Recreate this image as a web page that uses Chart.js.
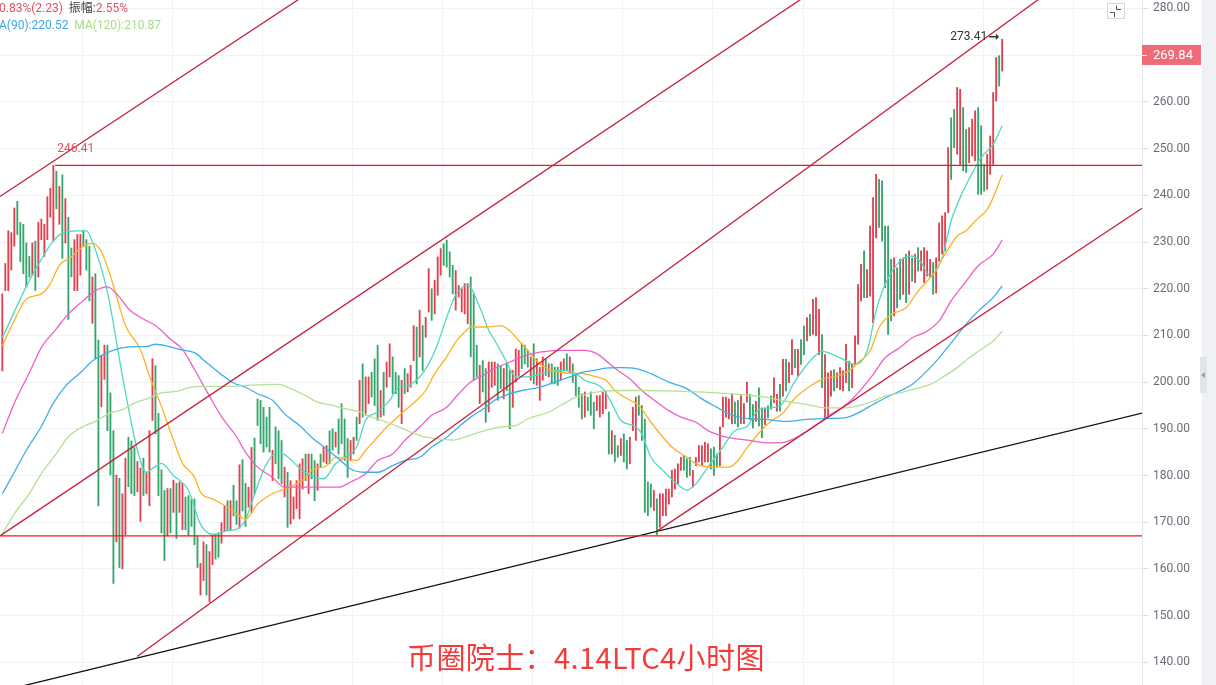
<!DOCTYPE html>
<html><head><meta charset="utf-8">
<script src="https://cdn.jsdelivr.net/npm/chart.js@4.4.1/dist/chart.umd.min.js"></script>
<style>
html,body{margin:0;padding:0;background:#fff;overflow:hidden;}
#wrap{position:relative;width:1216px;height:685px;overflow:hidden;}
canvas{position:absolute;left:0;top:0;}
.lg{position:absolute;left:-1px;font-family:Roboto,"Noto Sans CJK SC",sans-serif;font-size:12px;white-space:nowrap;line-height:14px;}
#title{position:absolute;left:407px;top:641px;font-family:"Noto Sans CJK SC",sans-serif;font-size:29px;line-height:30px;letter-spacing:0.4px;color:#f23b3b;white-space:nowrap;}
</style></head>
<body>
<div id="wrap">
<canvas id="c" width="1216" height="685"></canvas>
<div class="lg" style="top:1px"><span style="color:#e8505e">0.83%(2.23)</span>&nbsp;&nbsp;<span style="color:#444">振幅:</span><span style="color:#e8505e">2.55%</span></div>
<div class="lg" style="top:18px"><span style="color:#3aa7e4">A(90):220.52</span>&nbsp;&nbsp;<span style="color:#a9db86">MA(120):210.87</span></div>
<div id="title">币圈院士：4.14LTC4小时图</div>
</div>
<script>
// ---- candle data (4h candles, index 0..333) ----
const candleLow = [
202.4,219.6,219.6,224.0,229.1,231.6,225.8,223.2,220.3,222.5,
222.9,219.6,222.5,230.5,226.9,230.5,235.3,230.2,237.1,233.8,
226.5,229.8,213.4,222.5,219.6,219.6,222.9,229.1,224.0,217.4,
212.6,205.0,173.5,194.7,200.6,189.6,180.1,156.9,165.8,160.3,
160.0,167.3,177.6,176.1,175.7,176.5,170.2,175.7,176.1,173.5,
191.8,188.9,175.7,167.7,161.8,167.1,167.7,172.1,166.5,172.1,
168.4,168.4,167.1,169.1,165.2,160.3,154.4,157.5,154.4,152.9,
160.9,162.1,162.5,165.5,168.0,168.4,168.4,171.3,169.5,168.7,
172.4,169.1,173.2,172.0,176.0,190.7,186.8,185.0,186.1,185.0,
178.9,182.5,179.3,178.2,175.4,168.9,169.6,170.7,172.9,170.7,
177.1,178.9,176.1,179.3,174.6,176.8,181.8,182.9,182.5,182.5,
185.4,186.1,184.6,186.8,183.2,179.6,183.2,184.6,187.5,191.1,
192.5,192.9,195.4,196.8,195.0,191.8,192.5,192.9,198.9,201.1,
197.5,197.5,194.6,191.1,197.5,197.9,198.9,204.6,199.6,205.4,
202.5,209.6,215.0,213.2,214.6,218.6,222.9,225.0,224.6,222.5,
218.9,215.4,218.2,215.0,214.6,212.5,205.4,200.4,201.1,195.4,
197.9,191.4,193.6,198.9,199.3,196.1,198.6,196.4,198.2,190.0,
194.6,200.0,201.4,202.9,203.9,203.2,200.4,199.6,199.3,196.1,
200.4,201.4,201.1,199.6,199.6,199.3,200.4,202.5,202.5,201.8,
200.0,197.1,194.6,192.1,192.5,193.9,192.9,190.0,193.9,192.5,
193.2,194.3,184.6,184.6,182.9,183.9,184.3,182.9,181.4,182.5,
189.6,187.5,192.9,187.5,172.1,171.4,173.2,172.5,167.3,168.9,
171.4,171.4,173.9,175.4,177.1,178.2,181.1,181.1,179.6,180.0,
177.5,182.1,182.9,182.1,182.9,182.9,181.4,180.0,181.8,182.1,
190.4,192.5,192.1,191.1,191.1,190.4,191.1,191.1,195.7,192.0,
190.2,191.6,190.6,188.1,190.9,192.4,194.2,195.6,193.8,193.8,
197.0,198.1,199.9,201.6,203.1,201.3,203.8,205.9,208.8,209.9,
210.2,209.9,205.9,198.8,192.4,192.4,197.0,198.1,198.8,198.4,
198.1,199.9,198.1,198.8,203.8,208.1,217.4,218.1,218.1,218.4,
212.7,230.9,233.1,230.2,220.2,210.2,213.1,214.2,215.9,217.7,
218.8,217.0,218.8,221.6,221.3,223.8,223.8,221.3,222.7,222.4,
218.8,219.1,225.9,227.4,228.1,236.3,243.4,250.2,248.8,246.6,
245.2,244.9,247.0,248.4,247.4,240.2,240.2,240.9,241.3,244.5,
246.6,260.2,263.4,266.6];
const candleHigh = [
218.9,225.4,232.4,232.0,237.3,238.7,234.2,233.8,229.8,226.9,
229.8,230.2,234.2,234.9,233.8,239.7,241.5,246.41,245.2,241.9,
244.4,239.3,235.3,228.7,230.5,231.6,231.6,232.4,230.5,229.1,
222.5,223.2,209.0,205.7,207.9,207.9,197.7,189.6,180.1,179.4,
176.1,183.7,188.2,187.4,186.0,183.0,181.6,183.7,180.8,189.6,
205.0,203.5,193.3,181.2,176.8,177.2,177.2,179.0,178.3,178.6,
178.3,175.4,175.7,175.0,175.0,167.1,161.2,165.8,165.2,163.7,
167.4,167.4,167.7,169.9,173.5,174.6,174.6,177.9,174.6,182.3,
183.4,178.3,177.5,186.0,188.0,196.4,196.1,194.6,192.5,194.6,
185.4,190.4,189.6,187.5,181.8,180.7,178.9,175.4,178.9,182.5,
183.6,184.6,184.6,184.6,183.2,182.5,184.6,186.1,186.4,189.6,
190.0,189.3,192.1,195.4,192.1,187.9,187.5,188.2,192.5,200.4,
203.9,201.1,201.1,202.1,205.0,207.9,198.2,202.1,204.3,208.2,
205.4,202.1,201.4,200.4,202.9,201.8,203.6,212.1,211.8,215.4,
212.1,213.9,224.3,220.0,221.8,226.8,228.6,229.6,230.4,227.9,
225.0,223.9,220.7,220.0,221.1,221.1,222.5,218.9,207.9,203.6,
204.6,202.9,204.3,204.3,204.3,203.9,203.6,202.9,203.9,202.5,
202.5,207.1,206.8,208.2,207.9,206.8,205.4,208.2,205.0,203.2,
205.4,205.0,203.9,203.9,203.2,203.2,204.3,205.0,206.1,205.4,
203.9,201.8,198.9,197.5,197.9,196.8,197.9,195.7,197.1,197.1,
197.9,198.2,193.6,189.6,188.6,186.4,187.9,188.9,187.5,188.2,
194.6,196.8,197.1,195.0,192.1,178.6,178.2,176.8,175.0,176.1,
176.1,177.1,177.1,181.1,181.4,182.5,183.9,184.3,183.6,183.9,
181.1,183.9,186.4,186.4,187.1,186.8,185.7,186.1,184.6,190.4,
196.8,196.8,196.4,197.5,195.7,196.1,197.1,195.4,200.0,197.4,
195.2,195.9,198.8,194.5,194.5,194.9,197.0,200.9,197.4,199.5,
204.9,204.9,204.2,209.1,207.0,207.0,209.1,212.0,213.8,214.5,
217.7,218.1,215.6,210.2,205.9,202.0,202.4,202.7,202.0,203.1,
202.4,208.1,204.5,203.8,209.9,220.9,225.2,228.1,224.1,233.4,
239.5,244.5,243.4,243.1,233.4,233.4,226.3,226.6,224.5,226.3,
226.6,227.4,228.1,226.6,227.4,228.8,228.1,228.8,228.1,226.3,
225.6,226.6,234.1,235.6,236.3,250.2,256.6,258.4,263.1,262.7,
258.8,254.1,254.5,256.3,258.1,258.8,254.9,246.6,248.8,252.7,
262.0,269.5,269.9,273.41];
// 1 = rising (red), 0 = falling (green)
const candleUp = [
1,1,1,1,1,0,0,0,0,0, 1,0,1,1,1,1,1,1,0,1, 0,1,0,0,1,1,1,0,0,0, 1,0,0,1,1,0,0,0,1,0,
1,1,0,0,0,1,1,0,1,1, 1,0,0,0,0,1,0,1,0,1, 1,0,0,0,0,0,1,1,0,1, 1,0,0,1,1,0,1,0,0,1,
0,0,1,1,0,0,0,0,0,0, 1,0,0,0,1,0,1,1,1,1, 1,0,1,0,0,1,0,1,1,0, 0,1,0,0,0,0,1,1,0,1,
0,1,1,0,0,0,1,0,1,1, 0,0,0,1,0,1,1,1,0,1, 0,1,1,0,1,1,1,0,0,0, 0,1,1,1,1,1,0,0,0,1,
0,0,1,1,1,0,0,1,0,0, 1,1,1,0,0,0,1,0,1,1, 1,0,1,0,0,0,1,1,0,1, 0,0,0,0,1,0,0,0,1,1,
1,1,0,1,0,0,1,0,0,1, 1,1,0,0,0,0,0,1,0,1, 1,1,1,1,1,1,1,0,0,0, 1,1,1,1,1,1,0,0,0,1,
1,1,1,1,0,0,1,1,1,0, 0,1,0,0,1,0,0,1,1,0, 1,0,1,1,0,1,0,0,1,0, 1,1,1,0,1,1,1,0,1,1,
1,1,0,1,1,1,1,0,1,1, 1,1,0,0,0,0,0,1,0,0, 1,0,1,0,1,0,1,1,1,1, 0,1,1,1,1,1,0,0,1,1,
0,0,1,1,1,0,0,0,1,1, 1,1,0,1];
const lastClose = 269.84;
const peakMark = [17, 246.41];
const highMark = [333, 273.41];

// ---- moving averages [candle index, value] ----
const maShort = [[0,209.5],[10,222.9],[20,231.9],[25,232.4],[28,232.4],[30,230.1],[35,219.3],[40,201.3],[45,185.4],[48,180.6],[50,181.5],[53,182.6],[57,180.0],[62,176.8],[66,169.6],[70,167.4],[75,168.2],[78,168.5],[81,170.5],[84,176],[88,182.5],[92,185],[95,184],[100,181],[104,179.6],[107,179.3],[111,182.5],[114,183.9],[118,186.1],[121,191.8],[125,193.6],[129,196.1],[132,198.9],[135,199.3],[139,201.1],[142,203.9],[145,208.2],[148,213.9],[151,218.6],[155,220.7],[159,216.1],[162,211.1],[164,208.9],[168,204.3],[171,201.1],[175,201.1],[181,202.1],[186,202.5],[191,201.8],[194,200.4],[200,198.6],[203,195.4],[206,191.8],[211,190.4],[213,188.9],[216,183.9],[220,181.1],[224,178.6],[228,176.9],[231,178.2],[235,181.8],[240,186.1],[244,189.6],[248,190.5],[252,194.1],[259,194.9],[264,200.2],[270,205.2],[273,206.6],[279,205.2],[284,203.8],[288,206.6],[291,215.2],[294,220.9],[299,225.9],[303,227.0],[306,225.6],[309,222.7],[313,226.6],[316,234.5],[320,240.9],[324,245.9],[326,248.1],[330,250.9],[333,254.9]];
const maMid = [[0,207.8],[4,213.2],[8,217.8],[13,218.9],[16,221.1],[19,225.0],[23,226.8],[26,228.6],[30,229.7],[33,227.9],[37,220.7],[41,212.1],[46,207.0],[49,201.3],[53,194.8],[57,187.6],[60,182.6],[64,179.7],[66,176.4],[70,175.0],[75,173.2],[78,171.8],[81,170.7],[85,173.9],[90,176.1],[94,177.1],[98,178.2],[101,179.6],[103,181.1],[108,182.1],[111,183.9],[114,183.6],[118,183.2],[121,185.4],[124,187.5],[128,190.4],[131,192.1],[134,193.9],[138,196.1],[141,198.2],[144,201.8],[148,205.4],[151,208.6],[154,210.7],[156,211.8],[161,211.8],[166,212.1],[169,211.0],[172,208.9],[175,206.8],[179,203.9],[183,202.5],[188,201.9],[193,201.8],[198,201.1],[201,200.4],[204,198.2],[209,196.1],[212,195.0],[216,191.4],[220,188.2],[223,186.1],[228,183.9],[231,182.5],[235,181.9],[242,181.8],[245,183.2],[248,185.9],[252,189.1],[256,191.6],[260,193.4],[264,196.6],[269,199.1],[273,200.6],[278,201.3],[282,202.4],[285,204.2],[289,206.6],[292,211.7],[296,214.5],[301,215.9],[305,219.5],[310,223.1],[314,227.4],[318,231.3],[321,232.4],[324,234.5],[328,237.0],[330,239.5],[333,244.4]];
const maLong = [[0,189.0],[4,195.5],[9,202.0],[13,207.4],[18,211.4],[22,214.6],[27,217.5],[31,219.6],[35,220.4],[39,218.2],[42,215.7],[47,213.5],[51,212.1],[56,209.2],[60,207.0],[64,202.7],[69,197.0],[73,192.6],[78,188.3],[81,185.0],[85,181.8],[90,179.6],[94,177.5],[99,177.5],[103,177.5],[108,177.5],[112,177.5],[116,178.6],[121,180.4],[125,183.2],[130,184.6],[134,187.5],[139,190.4],[143,192.9],[148,194.6],[152,197.5],[156,200.0],[161,201.8],[164,202.9],[169,204.3],[173,205.4],[179,206.4],[186,206.8],[194,206.8],[198,206.1],[201,204.6],[205,202.5],[209,200.7],[213,198.2],[218,195.7],[222,193.9],[226,192.5],[231,191.4],[235,189.6],[240,188.4],[244,187.9],[249,187.5],[254,187.0],[259,187.0],[263,187.7],[268,189.5],[272,191.3],[276,193.1],[281,195.2],[285,197.7],[290,201.6],[294,205.2],[299,207.4],[303,209.5],[308,210.9],[312,213.1],[316,217.4],[321,221.6],[325,224.9],[330,227.4],[333,230.4]];
const ma90 = [[0,176.1],[4,180.7],[8,185.4],[13,190.5],[17,195.5],[21,199.1],[26,202.0],[30,204.5],[35,206.3],[39,207.2],[44,207.6],[48,207.6],[51,208.1],[55,207.7],[59,207.0],[64,206.3],[68,204.2],[73,201.6],[77,199.8],[81,198.9],[85,197.5],[90,196.1],[94,193.2],[99,190.7],[103,188.2],[108,185.7],[112,183.6],[116,181.4],[121,180.7],[125,180.7],[130,182.1],[134,183.2],[139,183.9],[143,186.1],[148,188.2],[152,190.4],[156,192.5],[161,194.6],[164,196.1],[169,197.5],[173,198.2],[179,198.9],[184,200.0],[189,201.1],[193,202.1],[198,202.6],[201,203.0],[206,203.1],[211,202.9],[216,201.8],[222,200.0],[228,198.6],[233,196.4],[238,194.6],[242,193.2],[246,192.4],[250,192.1],[254,192.0],[261,191.6],[268,192.0],[274,192.2],[281,192.4],[285,193.4],[290,195.2],[294,196.6],[299,198.1],[303,199.5],[308,202.4],[312,205.2],[316,208.4],[321,212.4],[325,215.2],[330,218.1],[333,220.6]];
const ma120 = [[0,167.5],[4,171.8],[9,176.1],[13,180.4],[18,184.7],[22,188.3],[27,190.5],[31,191.6],[36,193.4],[40,194.1],[44,195.5],[49,196.6],[53,197.7],[58,198.0],[62,198.8],[67,199.1],[71,199.1],[76,199.1],[81,199.3],[85,199.4],[92,199.5],[96,198.6],[101,197.1],[105,195.7],[110,195.0],[114,194.3],[119,193.6],[123,192.5],[128,191.4],[132,190.4],[136,189.3],[141,188.2],[145,187.9],[150,187.6],[154,188.2],[159,189.3],[163,190.0],[166,190.4],[171,190.7],[175,192.1],[182,193.6],[186,195.0],[191,196.8],[195,197.5],[201,198.1],[209,198.2],[214,198.2],[222,198.1],[231,197.9],[240,197.6],[248,197.2],[254,196.8],[261,195.9],[268,195.2],[274,194.5],[281,194.5],[285,194.9],[290,195.9],[294,197.0],[299,197.7],[303,198.4],[309,199.5],[313,201.0],[318,203.1],[322,205.2],[326,207.0],[330,208.8],[333,210.9]];

// ---- drawn trend lines [candle index, price] ----
const channelTop = [[-0.77,239.73],[98.7,281.95]];
const channelMid = [[-0.77,167.08],[265.9,281.95]];
const channelUp  = [[44.9,141.25],[345.1,281.95]];
const channelLow = [[217.9,168.04],[380,237.4]];
const supportLine = [[5.9,134.8],[380,193.43]];
const hLineHigh = [[17.6,246.41],[380,246.41]];
const hLineLow  = [[-1,167.08],[380,167.08]];
const yTicks = [140,150,160,170,180,190,200,210,220,230,240,250,260,270,280];

const RED='#e2404f', GREEN='#35a66b';
const toPts = a => a.map(p => ({x:p[0], y:p[1]}));
const candles = candleLow.map((lo,i) => ({x:i, y:[lo, candleHigh[i]]}));

function lineDs(data, color, width, order, tension){
  return {type:'line', data:toPts(data), borderColor:color, borderWidth:width, pointRadius:0,
    fill:false, order:order, tension: tension||0, cubicInterpolationMode: tension? 'monotone':'default'};
}

const deco = {
  id:'deco',
  beforeDraw(chart){
    const c=chart.ctx; c.save(); c.fillStyle='#fff'; c.fillRect(0,0,chart.width,chart.height); c.restore();
  },
  afterDraw(chart){
    const c=chart.ctx, xs=chart.scales.x, ys=chart.scales.y, ca=chart.chartArea;
    c.save();
    // right side strip
    c.fillStyle='#eff1f5'; c.fillRect(1202,0,14,chart.height);
    c.fillStyle='#e1e4ea'; c.fillRect(1200,357,7,36);
    c.fillStyle='#9aa1ab'; c.beginPath(); c.moveTo(1201,375); c.lineTo(1205,372); c.lineTo(1205,378); c.closePath(); c.fill();
    // small icon
    c.strokeStyle='#d3d7de'; c.lineWidth=1; c.strokeRect(1107.5,3.5,17,15);
    c.strokeStyle='#555'; c.beginPath();
    c.moveTo(1116.5,5.5); c.lineTo(1116.5,9.5); c.lineTo(1121,9.5);
    c.moveTo(1110,12.5); c.lineTo(1114.5,12.5); c.lineTo(1114.5,17);
    c.stroke();
    // last price box
    const py = ys.getPixelForValue(lastClose) - 1;
    c.fillStyle='#ef6b77'; c.fillRect(ca.right, py-10, 1201-ca.right, 20);
    c.strokeStyle='#fff'; c.beginPath(); c.moveTo(ca.right, py+0.5); c.lineTo(ca.right+5, py+0.5); c.stroke();
    c.fillStyle='#fff'; c.font='13px Roboto, sans-serif'; c.textBaseline='middle'; c.textAlign='left';
    c.fillText(lastClose.toFixed(2), ca.right+11, py+0.5);
    // peak label
    c.font='12px Roboto, sans-serif';
    c.fillStyle='#e8505e'; c.textAlign='left';
    c.fillText(peakMark[1].toFixed(2), xs.getPixelForValue(peakMark[0])+4, ys.getPixelForValue(peakMark[1])-16);
    // high label
    c.fillStyle='#333'; c.textAlign='right';
    c.fillText(highMark[1].toFixed(2), xs.getPixelForValue(highMark[0])-15, ys.getPixelForValue(highMark[1])-2);
    c.font='bold 13px "DejaVu Sans", sans-serif';
    c.fillText('\u2192', xs.getPixelForValue(highMark[0])-3, ys.getPixelForValue(highMark[1])-2);
    c.restore();
  }
};

new Chart(document.getElementById('c'), {
  data:{ datasets:[
    {type:'bar', data:candles, backgroundColor:candleUp.map(u=>u?RED:GREEN), barThickness:1.2,
      borderWidth:0, grouped:false, order:5},
    lineDs(ma120,'#b5e193',1.3,4,0.4),
    lineDs(ma90,'#3daee9',1.3,4,0.4),
    lineDs(maLong,'#ee5fc7',1.3,4,0.4),
    lineDs(maMid,'#fdb225',1.3,4,0.4),
    lineDs(maShort,'#4fd9bf',1.3,4,0.4),
    lineDs(channelTop,'#c4233b',1.3,2),
    lineDs(channelMid,'#c4233b',1.3,2),
    lineDs(channelUp,'#c4233b',1.3,2),
    lineDs(channelLow,'#c4233b',1.3,2),
    lineDs(supportLine,'#111111',1.3,2),
    lineDs(hLineHigh,'#ff1414',1.4,1),
    lineDs(hLineLow,'#ff1414',1.4,1)
  ]},
  options:{
    responsive:false, animation:false, devicePixelRatio:1,
    layout:{padding:0},
    plugins:{legend:{display:false}, tooltip:{enabled:false}},
    scales:{
      x:{type:'linear', min:-0.77, max:379.57, position:'bottom', offset:false,
        grid:{color:'#f1f3f7', drawTicks:false, offset:false}, border:{display:false},
        ticks:{display:false},
        afterBuildTicks(s){ const t=[]; for(let v=26.67; v<379; v+=30) t.push({value:v}); s.ticks=t; },
        afterFit(s){ s.height=0; s.paddingLeft=0; s.paddingRight=0; }
      },
      y:{type:'linear', position:'right', min:135.14, max:281.82,
        grid:{color:'#eef1f5', tickLength:6, tickColor:'#d8dce2'},
        border:{color:'#e3e6eb'},
        ticks:{padding:5, color:'#666e7a', font:{family:'Roboto', size:12}, callback:v=>Number(v).toFixed(2)},
        afterBuildTicks(s){ s.ticks = yTicks.map(v=>({value:v})); },
        afterFit(s){ s.width=74; s.paddingTop=0; s.paddingBottom=0; }
      }
    }
  },
  plugins:[deco]
});
</script>
</body></html>
